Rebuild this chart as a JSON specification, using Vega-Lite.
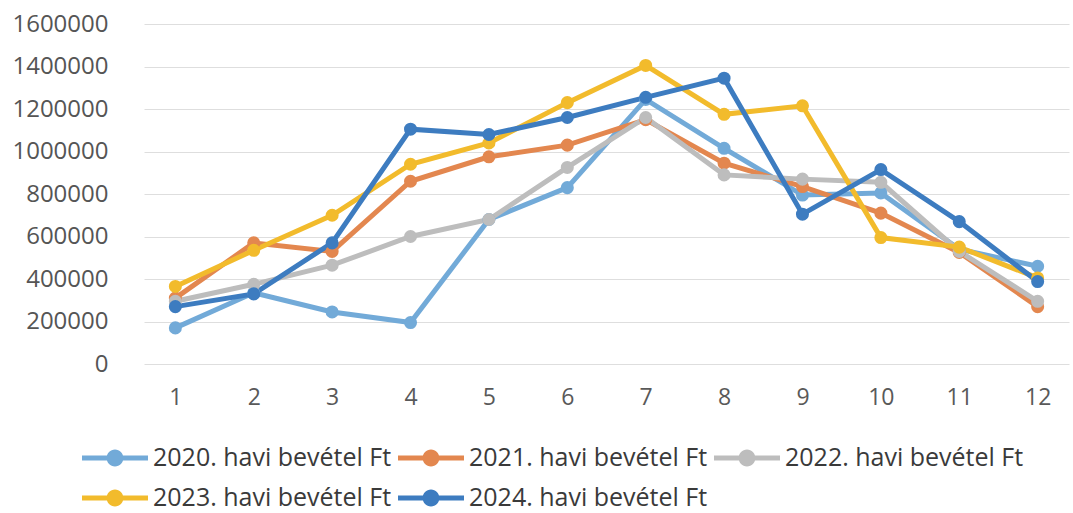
{
  "$schema": "https://vega.github.io/schema/vega-lite/v6.json",
  "width": 925,
  "height": 340,
  "autosize": {"type": "none"},
  "padding": {"left": 144, "top": 24, "right": 4, "bottom": 149},
  "background": "white",
  "config": {"view": {"stroke": null}, "font": "Open Sans"},
  "data": {"values": [
    {"month": 1, "series": "2020. havi bevétel Ft", "value": 170000},
    {"month": 2, "series": "2020. havi bevétel Ft", "value": 335000},
    {"month": 3, "series": "2020. havi bevétel Ft", "value": 245000},
    {"month": 4, "series": "2020. havi bevétel Ft", "value": 195000},
    {"month": 5, "series": "2020. havi bevétel Ft", "value": 680000},
    {"month": 6, "series": "2020. havi bevétel Ft", "value": 830000},
    {"month": 7, "series": "2020. havi bevétel Ft", "value": 1245000},
    {"month": 8, "series": "2020. havi bevétel Ft", "value": 1015000},
    {"month": 9, "series": "2020. havi bevétel Ft", "value": 795000},
    {"month": 10, "series": "2020. havi bevétel Ft", "value": 805000},
    {"month": 11, "series": "2020. havi bevétel Ft", "value": 540000},
    {"month": 12, "series": "2020. havi bevétel Ft", "value": 460000},
    {"month": 1, "series": "2021. havi bevétel Ft", "value": 310000},
    {"month": 2, "series": "2021. havi bevétel Ft", "value": 570000},
    {"month": 3, "series": "2021. havi bevétel Ft", "value": 530000},
    {"month": 4, "series": "2021. havi bevétel Ft", "value": 860000},
    {"month": 5, "series": "2021. havi bevétel Ft", "value": 975000},
    {"month": 6, "series": "2021. havi bevétel Ft", "value": 1030000},
    {"month": 7, "series": "2021. havi bevétel Ft", "value": 1150000},
    {"month": 8, "series": "2021. havi bevétel Ft", "value": 945000},
    {"month": 9, "series": "2021. havi bevétel Ft", "value": 835000},
    {"month": 10, "series": "2021. havi bevétel Ft", "value": 710000},
    {"month": 11, "series": "2021. havi bevétel Ft", "value": 525000},
    {"month": 12, "series": "2021. havi bevétel Ft", "value": 270000},
    {"month": 1, "series": "2022. havi bevétel Ft", "value": 295000},
    {"month": 2, "series": "2022. havi bevétel Ft", "value": 375000},
    {"month": 3, "series": "2022. havi bevétel Ft", "value": 465000},
    {"month": 4, "series": "2022. havi bevétel Ft", "value": 600000},
    {"month": 5, "series": "2022. havi bevétel Ft", "value": 680000},
    {"month": 6, "series": "2022. havi bevétel Ft", "value": 925000},
    {"month": 7, "series": "2022. havi bevétel Ft", "value": 1160000},
    {"month": 8, "series": "2022. havi bevétel Ft", "value": 890000},
    {"month": 9, "series": "2022. havi bevétel Ft", "value": 870000},
    {"month": 10, "series": "2022. havi bevétel Ft", "value": 855000},
    {"month": 11, "series": "2022. havi bevétel Ft", "value": 530000},
    {"month": 12, "series": "2022. havi bevétel Ft", "value": 295000},
    {"month": 1, "series": "2023. havi bevétel Ft", "value": 365000},
    {"month": 2, "series": "2023. havi bevétel Ft", "value": 535000},
    {"month": 3, "series": "2023. havi bevétel Ft", "value": 700000},
    {"month": 4, "series": "2023. havi bevétel Ft", "value": 940000},
    {"month": 5, "series": "2023. havi bevétel Ft", "value": 1040000},
    {"month": 6, "series": "2023. havi bevétel Ft", "value": 1230000},
    {"month": 7, "series": "2023. havi bevétel Ft", "value": 1405000},
    {"month": 8, "series": "2023. havi bevétel Ft", "value": 1175000},
    {"month": 9, "series": "2023. havi bevétel Ft", "value": 1215000},
    {"month": 10, "series": "2023. havi bevétel Ft", "value": 595000},
    {"month": 11, "series": "2023. havi bevétel Ft", "value": 550000},
    {"month": 12, "series": "2023. havi bevétel Ft", "value": 405000},
    {"month": 1, "series": "2024. havi bevétel Ft", "value": 270000},
    {"month": 2, "series": "2024. havi bevétel Ft", "value": 330000},
    {"month": 3, "series": "2024. havi bevétel Ft", "value": 570000},
    {"month": 4, "series": "2024. havi bevétel Ft", "value": 1105000},
    {"month": 5, "series": "2024. havi bevétel Ft", "value": 1080000},
    {"month": 6, "series": "2024. havi bevétel Ft", "value": 1160000},
    {"month": 7, "series": "2024. havi bevétel Ft", "value": 1255000},
    {"month": 8, "series": "2024. havi bevétel Ft", "value": 1345000},
    {"month": 9, "series": "2024. havi bevétel Ft", "value": 705000},
    {"month": 10, "series": "2024. havi bevétel Ft", "value": 915000},
    {"month": 11, "series": "2024. havi bevétel Ft", "value": 670000},
    {"month": 12, "series": "2024. havi bevétel Ft", "value": 388000}
  ]},
  "encoding": {
    "x": {
      "field": "month", "type": "ordinal",
      "scale": {"type": "point", "padding": 0.4},
      "axis": {"labelAngle": 0, "ticks": false, "domain": false, "grid": false, "labelPadding": 22, "labelFontSize": 23, "labelColor": "#595959", "title": null}
    },
    "y": {
      "field": "value", "type": "quantitative",
      "scale": {"domain": [0, 1600000], "nice": false},
      "axis": {"values": [0, 200000, 400000, 600000, 800000, 1000000, 1200000, 1400000, 1600000], "format": "d", "ticks": false, "domain": false, "labelPadding": 36, "labelFontSize": 24, "labelColor": "#555555", "gridColor": "#dedede", "gridWidth": 1, "title": null}
    },
    "color": {
      "field": "series", "type": "nominal",
      "scale": {
        "domain": ["2020. havi bevétel Ft", "2021. havi bevétel Ft", "2022. havi bevétel Ft", "2023. havi bevétel Ft", "2024. havi bevétel Ft"],
        "range": ["#72aad8", "#e3874f", "#bdbdbd", "#f2bb2c", "#3d7cc0"]
      },
      "legend": {
        "orient": "none", "legendX": -44, "legendY": 419,
        "direction": "horizontal", "columns": 3, "title": null,
        "symbolType": "M-2.2,-0.17H-0.5V0.17H-2.2Z M0.5,-0.17H2.2V0.17H0.5Z M0.56,0A0.56,0.56 0 1,1 -0.56,0A0.56,0.56 0 1,1 0.56,0Z",
        "symbolSize": 900, "symbolStrokeWidth": 0, "symbolOpacity": 1,
        "labelFontSize": 25, "labelColor": "#3a3a3a", "labelLimit": 400, "labelOffset": 23,
        "columnPadding": 6, "rowPadding": 12
      }
    }
  },
  "layer": [
    {"mark": {"type": "line", "strokeWidth": 5}},
    {"mark": {"type": "point", "filled": true, "size": 170, "opacity": 1}}
  ]
}
